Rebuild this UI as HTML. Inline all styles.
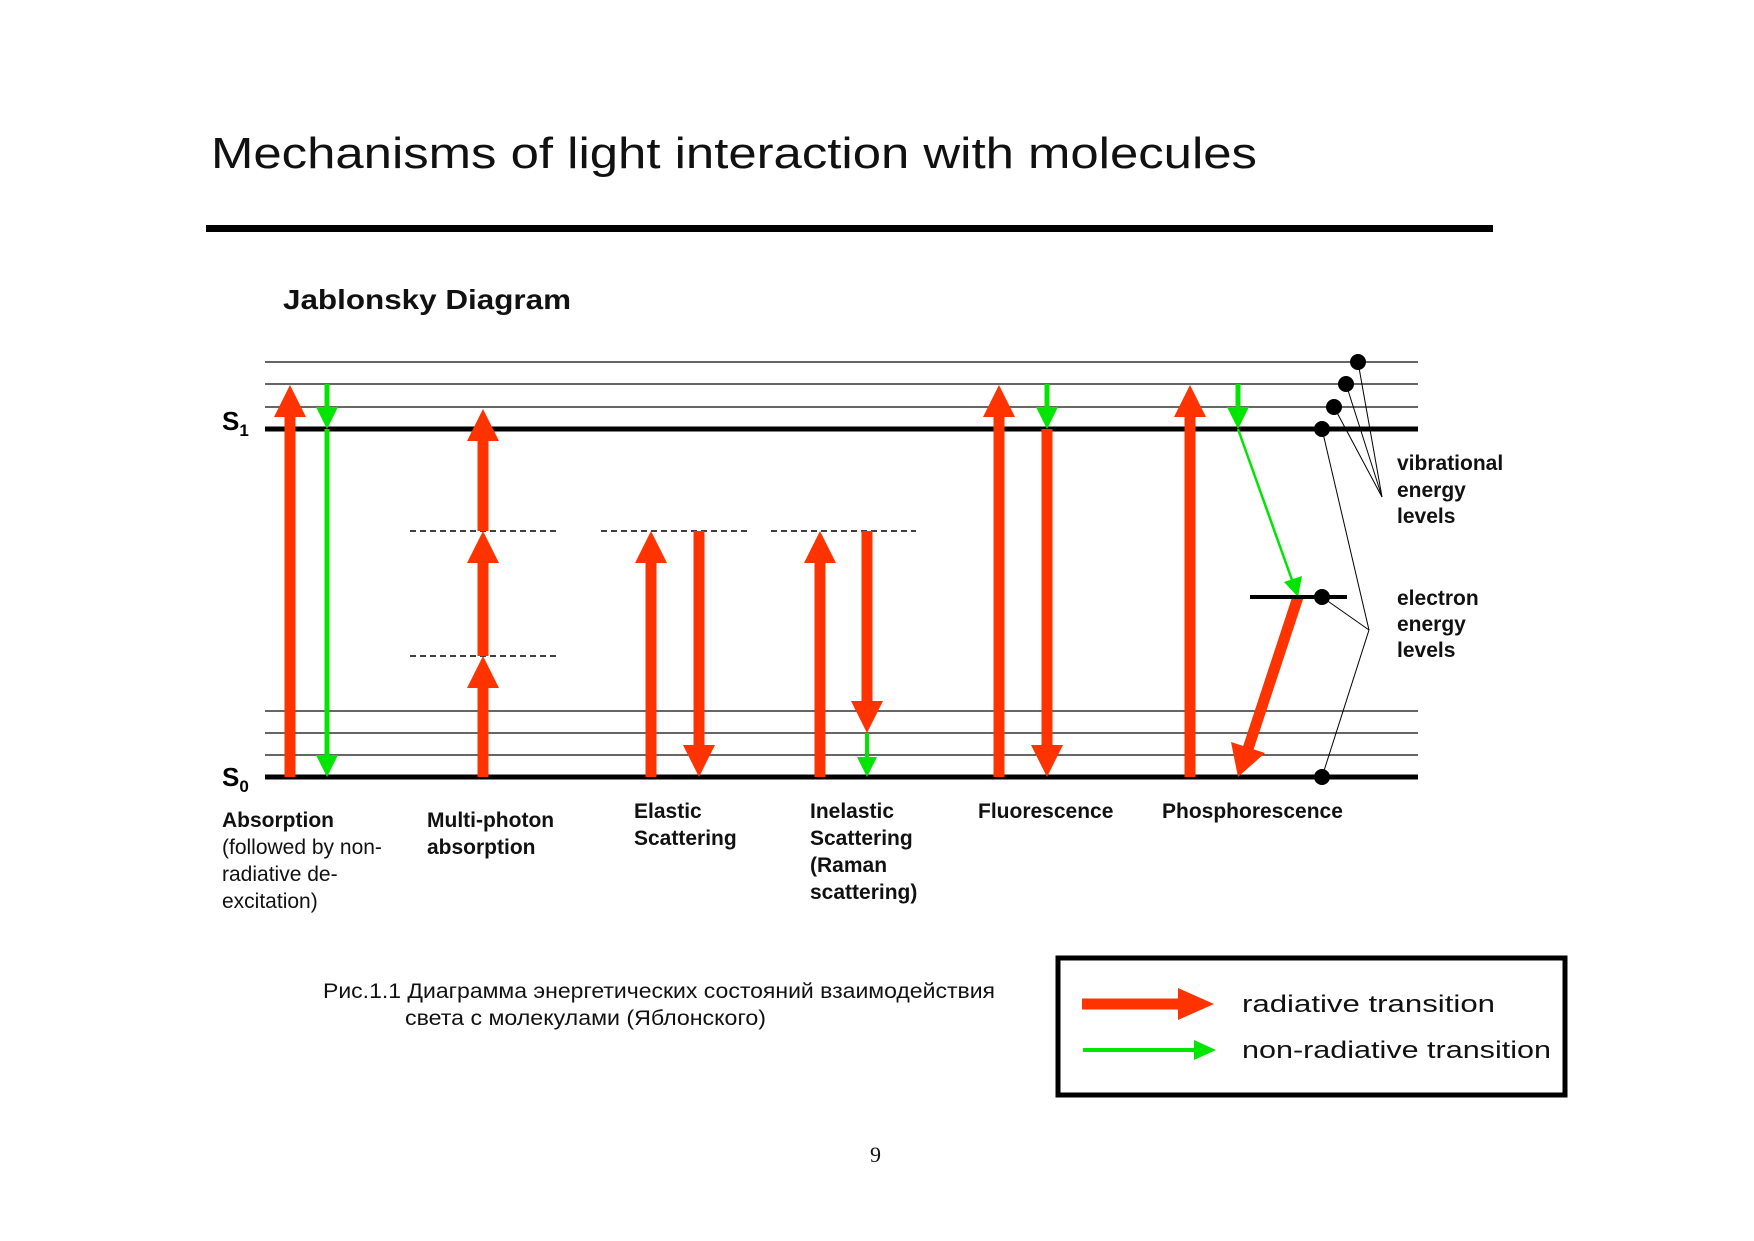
<!DOCTYPE html>
<html><head><meta charset="utf-8"><style>
html,body{margin:0;padding:0;background:#fff}
body{width:1754px;height:1241px;position:relative;overflow:hidden}
svg{position:absolute;left:0;top:0}
</style></head><body>
<svg width="1754" height="1241" viewBox="0 0 1754 1241" xmlns="http://www.w3.org/2000/svg">
<text x="211" y="168" font-family="Liberation Sans, sans-serif" font-size="44" fill="#111" textLength="1046" lengthAdjust="spacingAndGlyphs">Mechanisms of light interaction with molecules</text>
<rect x="206" y="225" width="1287" height="7" fill="#000"/>
<text x="283" y="309" font-family="Liberation Sans, sans-serif" font-weight="bold" font-size="28" fill="#111" textLength="288" lengthAdjust="spacingAndGlyphs">Jablonsky Diagram</text>

<g stroke="#333" stroke-width="1.6">
<line x1="265" y1="362" x2="1418" y2="362"/>
<line x1="265" y1="384" x2="1418" y2="384"/>
<line x1="265" y1="407" x2="1418" y2="407"/>
<line x1="265" y1="711" x2="1418" y2="711"/>
<line x1="265" y1="733" x2="1418" y2="733"/>
<line x1="265" y1="755" x2="1418" y2="755"/>
</g>
<g stroke="#000" stroke-width="5">
<line x1="265" y1="429" x2="1418" y2="429"/>
<line x1="265" y1="777" x2="1418" y2="777"/>
</g>
<g stroke="#000" stroke-width="1.5" stroke-dasharray="6,4">
<line x1="410" y1="531" x2="557" y2="531"/>
<line x1="410" y1="656" x2="557" y2="656"/>
<line x1="601" y1="531" x2="748" y2="531"/>
<line x1="771" y1="531" x2="916" y2="531"/>
</g>
<text x="222" y="430" font-family="Liberation Sans, sans-serif" font-weight="bold" font-size="26">S<tspan font-size="17" dy="6">1</tspan></text>
<text x="222" y="786" font-family="Liberation Sans, sans-serif" font-weight="bold" font-size="26">S<tspan font-size="17" dy="6">0</tspan></text>

<g fill="#ff3300" stroke="#ff3300">
<line x1="290" y1="777" x2="290" y2="410" stroke-width="11"/>
<polygon points="274,417 306,417 290,385" stroke="none"/>
<line x1="483" y1="777" x2="483" y2="680" stroke-width="11"/>
<polygon points="467,688 499,688 483,656" stroke="none"/>
<line x1="483" y1="656" x2="483" y2="555" stroke-width="11"/>
<polygon points="467,563 499,563 483,531" stroke="none"/>
<line x1="483" y1="531" x2="483" y2="435" stroke-width="11"/>
<polygon points="467,441 499,441 483,409" stroke="none"/>
<line x1="651" y1="777" x2="651" y2="555" stroke-width="11"/>
<polygon points="635,563 667,563 651,531" stroke="none"/>
<line x1="699" y1="531" x2="699" y2="750" stroke-width="11"/>
<polygon points="683,745 715,745 699,777" stroke="none"/>
<line x1="820" y1="777" x2="820" y2="555" stroke-width="11"/>
<polygon points="804,563 836,563 820,531" stroke="none"/>
<line x1="867" y1="531" x2="867" y2="706" stroke-width="11"/>
<polygon points="851,701 883,701 867,733" stroke="none"/>
<line x1="999" y1="777" x2="999" y2="410" stroke-width="11"/>
<polygon points="983,417 1015,417 999,385" stroke="none"/>
<line x1="1047" y1="429" x2="1047" y2="750" stroke-width="11"/>
<polygon points="1031,745 1063,745 1047,777" stroke="none"/>
<line x1="1190" y1="777" x2="1190" y2="410" stroke-width="11"/>
<polygon points="1174,417 1206,417 1190,385" stroke="none"/>
<line x1="1298" y1="597" x2="1245" y2="758" stroke-width="11"/>
<polygon points="1265,753 1231,742 1238,777" stroke="none"/>
</g>
<g fill="#00e600" stroke="#00e600">
<line x1="327" y1="384" x2="327" y2="410" stroke-width="5"/>
<polygon points="316,407 338,407 327,429" stroke="none"/>
<line x1="327" y1="429" x2="327" y2="758" stroke-width="5"/>
<polygon points="316,755 338,755 327,777" stroke="none"/>
<line x1="867" y1="733" x2="867" y2="758" stroke-width="4"/>
<polygon points="857,757 877,757 867,777" stroke="none"/>
<line x1="1047" y1="384" x2="1047" y2="410" stroke-width="5"/>
<polygon points="1036,407 1058,407 1047,429" stroke="none"/>
<line x1="1238" y1="384" x2="1238" y2="410" stroke-width="5"/>
<polygon points="1227,407 1249,407 1238,429" stroke="none"/>
<line x1="1238" y1="429" x2="1292" y2="580" stroke-width="2.5"/>
<polygon points="1284,582 1302,576 1298,597" stroke="none"/>
</g>
<line x1="1250" y1="597" x2="1347" y2="597" stroke="#000" stroke-width="4"/>
<g fill="#000">
<circle cx="1358" cy="362" r="8"/><circle cx="1346" cy="384" r="8"/>
<circle cx="1334" cy="407" r="8"/><circle cx="1322" cy="429" r="8"/>
<circle cx="1322" cy="597" r="8"/><circle cx="1322" cy="777" r="8"/>
</g>
<g stroke="#000" stroke-width="1" fill="none">
<line x1="1358" y1="362" x2="1382" y2="497"/>
<line x1="1346" y1="384" x2="1382" y2="497"/>
<line x1="1334" y1="407" x2="1382" y2="497"/>
<line x1="1322" y1="429" x2="1369" y2="630"/>
<line x1="1322" y1="597" x2="1369" y2="630"/>
<line x1="1322" y1="777" x2="1369" y2="630"/>
</g>
<g font-family="Liberation Sans, sans-serif" font-weight="bold" font-size="21" fill="#111">
<text x="1397" y="470">vibrational</text>
<text x="1397" y="497">energy</text>
<text x="1397" y="523">levels</text>
<text x="1397" y="605">electron</text>
<text x="1397" y="631">energy</text>
<text x="1397" y="657">levels</text>
<text x="222" y="827">Absorption</text>
<text x="427" y="827">Multi-photon</text>
<text x="427" y="854">absorption</text>
<text x="634" y="818">Elastic</text>
<text x="634" y="845">Scattering</text>
<text x="810" y="818">Inelastic</text>
<text x="810" y="845">Scattering</text>
<text x="810" y="872">(Raman</text>
<text x="810" y="899">scattering)</text>
<text x="978" y="818">Fluorescence</text>
<text x="1162" y="818">Phosphorescence</text>
</g>
<g font-family="Liberation Sans, sans-serif" font-size="21" fill="#111">
<text x="222" y="854">(followed by non-</text>
<text x="222" y="881">radiative de-</text>
<text x="222" y="908">excitation)</text>
</g>
<g font-family="Liberation Sans, sans-serif" font-size="21" fill="#111">
<text x="323" y="998" textLength="672" lengthAdjust="spacingAndGlyphs">Рис.1.1 Диаграмма энергетических состояний взаимодействия</text>
<text x="405" y="1025" textLength="361" lengthAdjust="spacingAndGlyphs">света с молекулами (Яблонского)</text>
</g>
<rect x="1058" y="958" width="507" height="137" fill="none" stroke="#000" stroke-width="5"/>
<line x1="1082" y1="1004" x2="1180" y2="1004" stroke="#ff3300" stroke-width="11"/>
<polygon points="1178,988 1178,1020 1214,1004" fill="#ff3300"/>
<line x1="1083" y1="1050" x2="1196" y2="1050" stroke="#00e600" stroke-width="4"/>
<polygon points="1194,1040 1194,1060 1216,1050" fill="#00e600"/>
<g font-family="Liberation Sans, sans-serif" font-size="24" fill="#111">
<text x="1242" y="1012" textLength="253" lengthAdjust="spacingAndGlyphs">radiative transition</text>
<text x="1242" y="1058" textLength="309" lengthAdjust="spacingAndGlyphs">non-radiative transition</text>
</g>
<text x="870" y="1162" font-family="Liberation Serif, serif" font-size="22" fill="#111">9</text>
</svg>
</body></html>
